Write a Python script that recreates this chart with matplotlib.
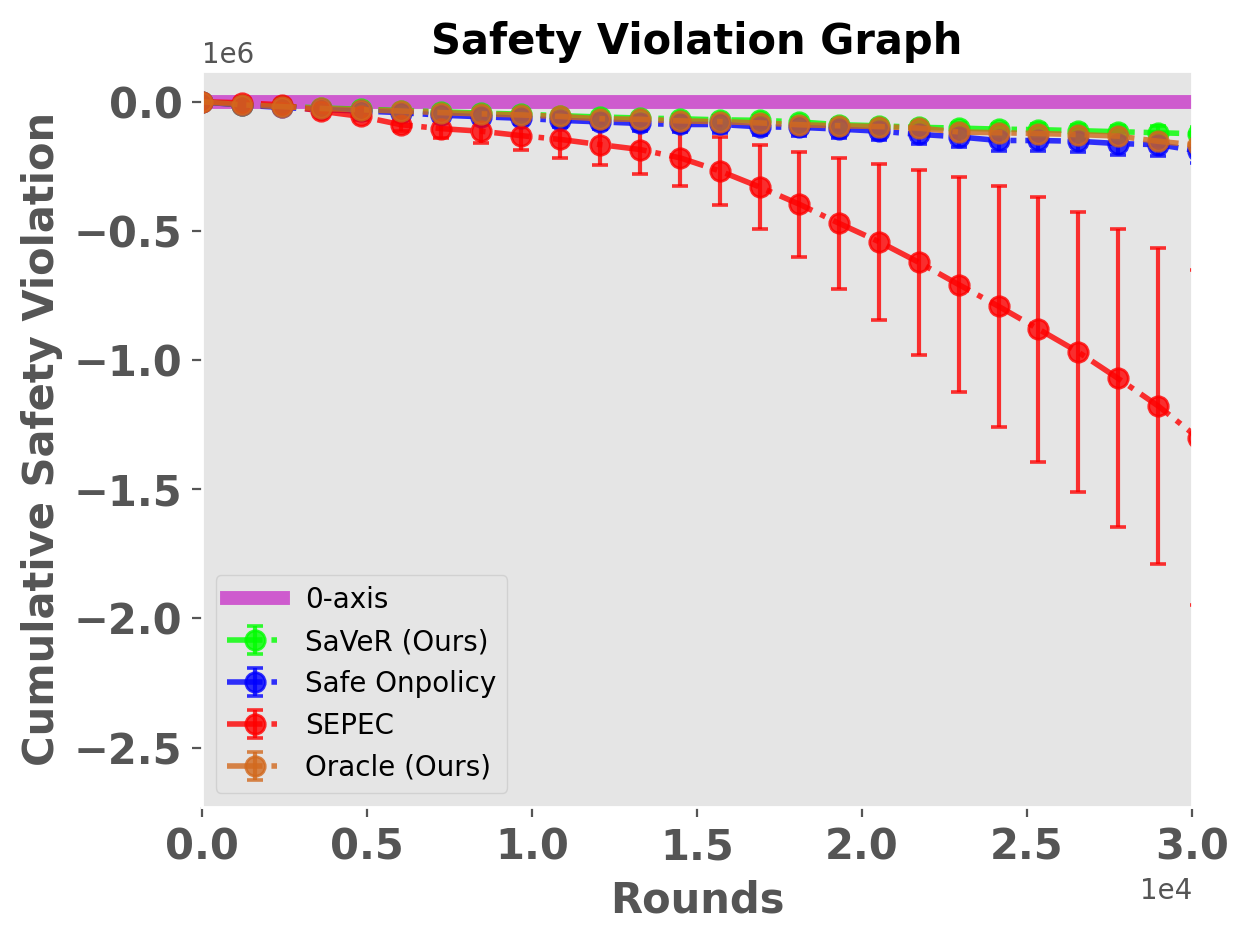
import numpy as np
import matplotlib
matplotlib.use("Agg")
import matplotlib.pyplot as plt

plt.style.use("ggplot")

# rounds at which the markers / error bars are drawn
rounds = [i * 1207 for i in range(26)]

saver_mean = [0, -0.011, -0.018, -0.024, -0.029, -0.034, -0.039, -0.044, -0.048, -0.054,
              -0.059, -0.063, -0.066, -0.070, -0.072, -0.078, -0.089, -0.093, -0.099, -0.102,
              -0.106, -0.108, -0.112, -0.116, -0.120, -0.124]
saver_err = [0, 0.002, 0.003, 0.004, 0.005, 0.006, 0.007, 0.008, 0.009, 0.010,
             0.011, 0.012, 0.013, 0.014, 0.015, 0.016, 0.017, 0.018, 0.019, 0.020,
             0.021, 0.022, 0.023, 0.024, 0.025, 0.026]

onpolicy_mean = [0, -0.013, -0.022, -0.030, -0.036, -0.042, -0.052, -0.058, -0.064, -0.072,
                 -0.078, -0.084, -0.088, -0.088, -0.097, -0.099, -0.106, -0.114, -0.126, -0.136,
                 -0.150, -0.150, -0.153, -0.162, -0.166, -0.190]
onpolicy_err = [0, 0.004, 0.007, 0.010, 0.013, 0.016, 0.019, 0.022, 0.024, 0.026,
                0.028, 0.030, 0.031, 0.032, 0.033, 0.034, 0.035, 0.036, 0.037, 0.038,
                0.040, 0.041, 0.042, 0.043, 0.044, 0.046]

sepec_mean = [0, -0.004, -0.012, -0.037, -0.057, -0.089, -0.104, -0.114, -0.131, -0.146,
              -0.166, -0.185, -0.217, -0.268, -0.330, -0.397, -0.471, -0.542, -0.622, -0.708,
              -0.792, -0.880, -0.969, -1.071, -1.177, -1.300]
sepec_err = [0, 0.003, 0.006, 0.010, 0.015, 0.023, 0.036, 0.045, 0.054, 0.070,
             0.080, 0.096, 0.109, 0.132, 0.163, 0.203, 0.252, 0.302, 0.358, 0.416,
             0.466, 0.513, 0.543, 0.577, 0.611, 0.647]

oracle_mean = [0, -0.012, -0.019, -0.026, -0.031, -0.036, -0.042, -0.047, -0.051, -0.057,
               -0.066, -0.068, -0.074, -0.077, -0.082, -0.089, -0.093, -0.096, -0.102, -0.117,
               -0.120, -0.123, -0.127, -0.133, -0.153, -0.168]
oracle_err = [0, 0.002, 0.003, 0.004, 0.005, 0.006, 0.007, 0.008, 0.009, 0.010,
              0.011, 0.012, 0.013, 0.014, 0.015, 0.016, 0.017, 0.018, 0.019, 0.020,
              0.021, 0.022, 0.023, 0.024, 0.025, 0.026]

scale = 1e6
series = [
    ("SaVeR (Ours)", saver_mean, saver_err, "lime"),
    ("Safe Onpolicy", onpolicy_mean, onpolicy_err, "blue"),
    ("SEPEC", sepec_mean, sepec_err, "red"),
    ("Oracle (Ours)", oracle_mean, oracle_err, "chocolate"),
]

fig = plt.figure(figsize=(6.25, 4.715), dpi=200)
ax = fig.add_axes([0.1616, 0.1445, 0.7920, 0.7802])

x = np.array(rounds, dtype=float)
ax.plot([0, 30000], [0, 0], color="m", alpha=0.6, lw=5, label="0-axis")
for name, m, e, c in series:
    ax.errorbar(x, np.array(m) * scale, yerr=np.array(e) * scale, fmt="o-.",
                color=c, alpha=0.8, lw=2, elinewidth=1.5, capsize=3, capthick=1.3,
                markersize=7, label=name)

ax.set_xlim(0, 30000)
ax.set_ylim(-2.729e6, 0.119e6)
ax.grid(False)
ax.ticklabel_format(axis="both", style="sci", scilimits=(0, 0))
for lab in ax.get_xticklabels() + ax.get_yticklabels():
    lab.set_fontsize(15)
    lab.set_fontweight("bold")
ax.set_xlabel("Rounds", fontsize=15, fontweight="bold")
ax.set_ylabel("Cumulative Safety Violation", fontsize=15, fontweight="bold")
ax.set_title("Safety Violation Graph", fontsize=15, fontweight="bold")
ax.legend(loc="lower left", fontsize=10)

fig.savefig("out.png", dpi=200)
